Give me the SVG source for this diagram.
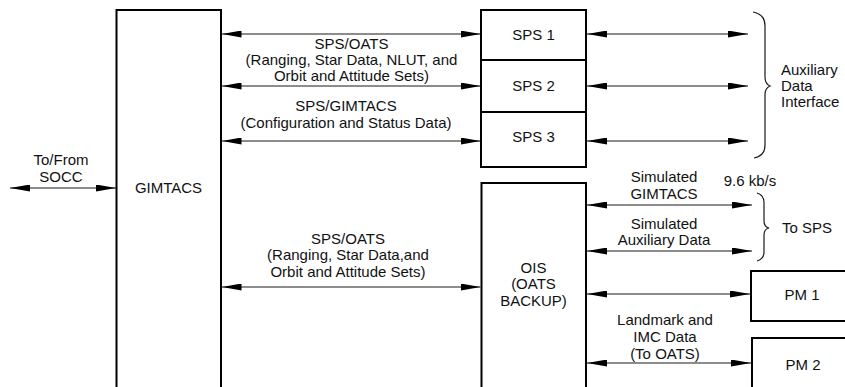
<svg xmlns="http://www.w3.org/2000/svg" width="845" height="387" viewBox="0 0 845 387">
  <style>
    .box { fill: #fff; stroke: #000; stroke-width: 2; }
    .link { fill: none; stroke: #1a1a1a; stroke-width: 1.2; marker-start: url(#head); marker-end: url(#head); }
    .brace { fill: none; stroke: #1a1a1a; stroke-width: 1.2; }
    text { font-family: "Liberation Sans", Arial, sans-serif; font-size: 15px; fill: #111; }
    .c { text-anchor: middle; }
  </style>
  <defs>
    <marker id="head" viewBox="0 0 20 7" refX="20" refY="3.5" markerWidth="20" markerHeight="7" markerUnits="userSpaceOnUse" orient="auto-start-reverse">
      <path d="M0,0 L20,3.5 L0,7 Z" fill="#000"/>
    </marker>
  </defs>
  <rect width="845" height="387" fill="#fff"/>

  <!-- GIMTACS controller (runs off the bottom edge) -->
  <g id="gimtacs">
    <rect class="box" x="116.5" y="10" width="104.5" height="400"/>
    <text class="c" x="168.5" y="193">GIMTACS</text>
  </g>

  <!-- SPS stack -->
  <g id="sps1">
    <rect class="box" x="481" y="10" width="105" height="50"/>
    <text class="c" x="533.5" y="39.5">SPS 1</text>
  </g>
  <g id="sps2">
    <rect class="box" x="481" y="60" width="105" height="52"/>
    <text class="c" x="533.5" y="91">SPS 2</text>
  </g>
  <g id="sps3">
    <rect class="box" x="481" y="112" width="105" height="55"/>
    <text class="c" x="533.5" y="142">SPS 3</text>
  </g>

  <!-- OIS backup -->
  <g id="ois">
    <rect class="box" x="481.5" y="183" width="104.5" height="240"/>
    <text class="c" x="533.5" y="272.5">OIS</text>
    <text class="c" x="533.5" y="289">(OATS</text>
    <text class="c" x="533.5" y="305.5">BACKUP)</text>
  </g>

  <!-- Processing modules (run off the right edge) -->
  <g id="pm1">
    <rect class="box" x="751" y="271" width="120" height="50"/>
    <text class="c" x="802" y="300">PM 1</text>
  </g>
  <g id="pm2">
    <rect class="box" x="752" y="338" width="120" height="80"/>
    <text class="c" x="803" y="370">PM 2</text>
  </g>

  <!-- Connectors -->
  <g id="connectors">
    <line class="link" x1="10" y1="188" x2="116" y2="188"/>
    <line class="link" x1="221.5" y1="34" x2="480.5" y2="34"/>
    <line class="link" x1="221.5" y1="86" x2="480.5" y2="86"/>
    <line class="link" x1="221.5" y1="141" x2="480.5" y2="141"/>
    <line class="link" x1="221.5" y1="287" x2="480.5" y2="287"/>
    <line class="link" x1="587" y1="34" x2="748" y2="34"/>
    <line class="link" x1="587" y1="86" x2="748" y2="86"/>
    <line class="link" x1="587" y1="141" x2="748" y2="141"/>
    <line class="link" x1="587" y1="205" x2="752" y2="205"/>
    <line class="link" x1="587" y1="251" x2="752" y2="251"/>
    <line class="link" x1="587" y1="294" x2="750" y2="294"/>
    <line class="link" x1="587" y1="363" x2="751" y2="363"/>

    <path class="brace" d="M753,12 Q765,14 765,26 L765,77 Q765,84 770,86 Q765,88 765,95 L765,145 Q765,156 754,158"/>
    <path class="brace" d="M757,193 Q764,195 764,203 L764,221 Q764,227 769,228 Q764,229 764,235 L764,252 Q764,259 757,261"/>
  </g>

  <!-- Connector labels -->
  <g id="labels">
    <text class="c" x="61" y="165">To/From</text>
    <text class="c" x="61" y="181.5">SOCC</text>

    <text class="c" x="351.5" y="48.5">SPS/OATS</text>
    <text class="c" x="351.5" y="64.5">(Ranging, Star Data, NLUT, and</text>
    <text class="c" x="351.5" y="81">Orbit and Attitude Sets)</text>
    <text class="c" x="346" y="111">SPS/GIMTACS</text>
    <text class="c" x="346" y="127.5">(Configuration and Status Data)</text>

    <text class="c" x="348" y="243.5">SPS/OATS</text>
    <text class="c" x="348" y="260">(Ranging, Star Data,and</text>
    <text class="c" x="348" y="276.5">Orbit and Attitude Sets)</text>

    <text x="781" y="75">Auxiliary</text>
    <text x="781" y="91">Data</text>
    <text x="781" y="107">Interface</text>

    <text class="c" x="664" y="181.5">Simulated</text>
    <text class="c" x="664" y="198.5">GIMTACS</text>
    <text class="c" x="750" y="185.5">9.6 kb/s</text>
    <text class="c" x="664" y="228.5">Simulated</text>
    <text class="c" x="664" y="244.5">Auxiliary Data</text>
    <text x="782" y="233">To SPS</text>

    <text class="c" x="665" y="324.5">Landmark and</text>
    <text class="c" x="665" y="341.5">IMC Data</text>
    <text class="c" x="665" y="358.5">(To OATS)</text>
  </g>
</svg>
